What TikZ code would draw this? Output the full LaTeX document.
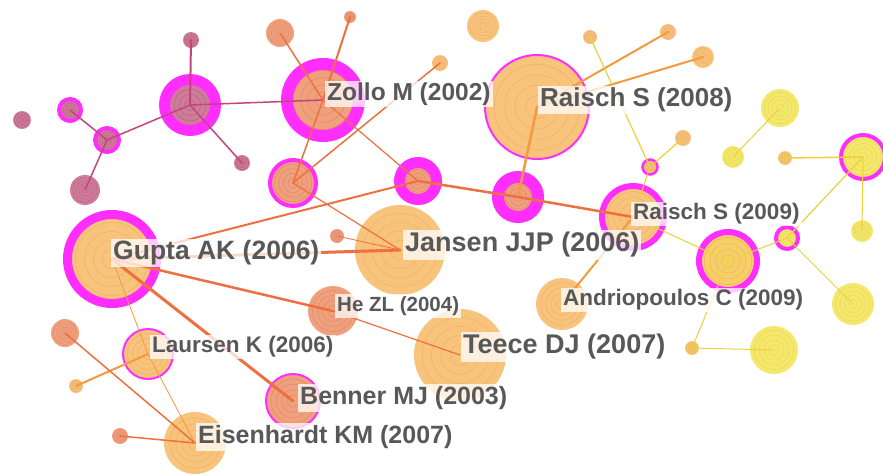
\documentclass[tikz,border=0pt]{standalone}
\usepackage{fontspec}
\setmainfont{Liberation Sans}
\usepackage{tikz}
\usetikzlibrary{calc}
\definecolor{Plum}{HTML}{CF7C9A}
\definecolor{PlumRing}{HTML}{B9627F}
\definecolor{Salmon}{HTML}{EFA07C}
\definecolor{SalmonRing}{HTML}{E2896A}
\definecolor{Amber}{HTML}{F8C47C}
\definecolor{AmberRing}{HTML}{EEAE6E}
\definecolor{Lemon}{HTML}{F4E86C}
\definecolor{LemonRing}{HTML}{E8D858}
\definecolor{Maize}{HTML}{F6D066}
\definecolor{Hot}{HTML}{FF2EFF}
\definecolor{PlumLink}{HTML}{C2457F}
\definecolor{CoralLink}{HTML}{EE7040}
\definecolor{OrangeLink}{HTML}{F29A3C}
\definecolor{YellowLink}{HTML}{EDD03C}
\definecolor{LabelGrey}{HTML}{585858}

\begin{document}
\begin{tikzpicture}[x=1pt, y=-1pt,
    cite/.style={circle, inner sep=0pt, outer sep=0pt, minimum size=#1},
    rings/.style={path picture={
      \foreach \k in {0.22,0.42,0.62,0.82}
        \draw[#1, line width=0.5pt] let \p1=(path picture bounding box.center), \p2=(path picture bounding box.east) in (\p1) circle[radius=\k*(\x2-\x1)];}},
    plum/.style={fill=Plum, rings=PlumRing},
    salmon/.style={fill=Salmon, rings=SalmonRing},
    amber/.style={fill=Amber, rings=AmberRing},
    maize/.style={fill=Maize, rings=AmberRing},
    lemon/.style={fill=Lemon, rings=LemonRing},
    hot/.style={draw=Hot, line width=#1},
    link/.style={draw=#1, line cap=round},
    lbl/.style={anchor=west, fill=white, fill opacity=0.75, text opacity=1, text=LabelGrey, inner sep=2pt, font=\bfseries\fontsize{#1}{#1}\selectfont}]
  \useasboundingbox[fill=white] (0,0) rectangle (883,475);

  % left cluster
  \node[cite=18, plum] (pa) at (22,120) {};
  \node[cite=22, plum, hot=4pt] (pb) at (70,110) {};
  \node[cite=24, plum, hot=4pt] (pc) at (107,140) {};
  \node[cite=30, plum] (pd) at (85,190) {};
  \node[cite=51, plum, hot=11pt] (pe) at (190,105) {};
  \node[cite=16, plum] (pf) at (191,40) {};
  \node[cite=16, plum] (pg) at (242,163) {};

  % middle
  \node[cite=72, salmon, hot=12pt] (zollo) at (323,100) {};
  \node[cite=28, salmon] (sa) at (280,33) {};
  \node[cite=12, salmon] (sb) at (350,17) {};
  \node[cite=16, amber] (ga) at (440,63) {};
  \node[cite=46, salmon, hot=4pt] (sc) at (293,183) {};
  \node[cite=37, salmon, hot=11pt] (sd) at (418,181) {};
  \node[cite=40, salmon, hot=12pt] (se) at (518,197) {};
  \node[cite=104, amber, hot=2pt] (raisch08) at (537,107) {};
  \node[cite=32, amber] (gb) at (483,26) {};
  \node[cite=14, amber] (gc) at (590,37) {};
  \node[cite=16, amber] (gd) at (668,32) {};
  \node[cite=22, amber] (ge) at (703,57) {};
  \node[cite=16, amber] (gf) at (683,138) {};
  \node[cite=15, amber, hot=2.5pt] (gj) at (650,167) {};
  \node[cite=90, amber] (jansen) at (400,250) {};
  \node[cite=14, salmon] (sh) at (337,236) {};
  \node[cite=62, amber, hot=6pt] (raisch09) at (633,217) {};
  \node[cite=52, amber] (andrio) at (562,304) {};

  % lower left
  \node[cite=89, amber, hot=9pt] (gupta) at (112,259) {};
  \node[cite=50, salmon] (hezl) at (333,311) {};
  \node[cite=92, amber] (teece) at (460,355) {};
  \node[cite=50, amber, hot=2pt] (laursen) at (148,354) {};
  \node[cite=28, salmon] (sf) at (65,333) {};
  \node[cite=14, amber] (gg) at (76,386) {};
  \node[cite=54, salmon, hot=2pt] (benner) at (293,401) {};
  \node[cite=62, amber] (eisen) at (195,443) {};
  \node[cite=16, salmon] (sg) at (120,436) {};

  % right cluster
  \node[cite=22, lemon] (ya) at (733,157) {};
  \node[cite=38, lemon] (yb) at (780,108) {};
  \node[cite=14, maize] (gi) at (785,158) {};
  \node[cite=44, lemon, hot=4pt] (yc) at (863,157) {};
  \node[cite=22, lemon] (yd) at (862,231) {};
  \node[cite=58, maize, hot=6pt] (ye) at (728,261) {};
  \node[cite=22, lemon, hot=4pt] (yf) at (787,238) {};
  \node[cite=42, lemon] (yg) at (853,304) {};
  \node[cite=48, lemon] (yh) at (774,350) {};
  \node[cite=14, maize] (gh) at (692,348) {};

  % links
  \draw[link=PlumLink, line width=1.5pt] (pb.center) -- (pc.center);
  \draw[link=PlumLink, line width=1.5pt] (pc.center) -- (pd.center);
  \draw[link=PlumLink, line width=1.5pt] (pc.center) -- (pe.center);
  \draw[link=PlumLink, line width=2pt] (pe.center) -- (pf.center);
  \draw[link=PlumLink, line width=1.5pt] (pe.center) -- (pg.center);
  \draw[link=PlumLink, line width=1.5pt] (pe.center) -- (zollo.center);
  \draw[link=CoralLink, line width=1.5pt] (zollo.center) -- (sa.center);
  \draw[link=CoralLink, line width=2pt] (zollo.center) -- (sb.center);
  \draw[link=CoralLink, line width=1.5pt] (zollo.center) -- (sc.center);
  \draw[link=CoralLink, line width=1.5pt] (sc.center) -- (ga.center);
  \draw[link=CoralLink, line width=1.2pt] (zollo.center) -- (sd.center);
  \draw[link=CoralLink, line width=1.2pt] (sc.center) -- (jansen.center);
  \draw[link=CoralLink, line width=2pt] (gupta.center) -- (sd.center);
  \draw[link=CoralLink, line width=2.5pt] (sd.center) -- (se.center);
  \draw[link=OrangeLink, line width=2.5pt] (se.center) -- (raisch08.center);
  \draw[link=CoralLink, line width=2.5pt] (se.center) -- (raisch09.center);
  \draw[link=OrangeLink, line width=2pt] (raisch08.center) -- (gd.center);
  \draw[link=OrangeLink, line width=2pt] (raisch08.center) -- (ge.center);
  \draw[link=YellowLink, line width=1.2pt] (gc.center) -- (gj.center);
  \draw[link=YellowLink, line width=1.2pt] (gj.center) -- (gf.center);
  \draw[link=YellowLink, line width=1pt] (gj.center) -- (raisch09.center);
  \draw[link=OrangeLink, line width=2pt] (raisch09.center) -- (andrio.center);
  \draw[link=YellowLink, line width=1pt] (raisch09.center) -- (ye.center);
  \draw[link=YellowLink, line width=1pt] (ye.center) -- (yf.center);
  \draw[link=YellowLink, line width=1.2pt] (yf.center) -- (yc.center);
  \draw[link=YellowLink, line width=1.5pt] (yc.center) -- (gi.center);
  \draw[link=YellowLink, line width=1pt] (yc.center) -- (yd.center);
  \draw[link=YellowLink, line width=1pt] (yf.center) -- (yg.center);
  \draw[link=YellowLink, line width=1pt] (ya.center) -- (yb.center);
  \draw[link=YellowLink, line width=1pt] (gh.center) -- (ye.center);
  \draw[link=YellowLink, line width=1pt] (gh.center) -- (yh.center);
  \draw[link=CoralLink, line width=3pt] (gupta.center) -- (jansen.center);
  \draw[link=CoralLink, line width=2.5pt] (gupta.center) -- (hezl.center);
  \draw[link=CoralLink, line width=1.2pt] (hezl.center) -- (teece.center);
  \draw[link=CoralLink, line width=3pt] (gupta.center) -- (benner.center);
  \draw[link=OrangeLink, line width=0.8pt] (gupta.center) -- (laursen.center);
  \draw[link=OrangeLink, line width=0.8pt] (laursen.center) -- (eisen.center);
  \draw[link=OrangeLink, line width=2pt] (laursen.center) -- (gg.center);
  \draw[link=CoralLink, line width=1.5pt] (sf.center) -- (eisen.center);
  \draw[link=CoralLink, line width=1.5pt] (sg.center) -- (eisen.center);
  \draw[link=CoralLink, line width=0.8pt] (jansen.center) -- (sh.center);

  % labels
  \node[lbl=24.5] (zolloL) at (325,94) {Zollo M (2002)};
  \node[lbl=26] (raisch08L) at (538,100) {Raisch S (2008)};
  \node[lbl=26.5] (guptaL) at (111,253) {Gupta AK (2006)};
  \node[lbl=27] (jansenL) at (403,245) {Jansen JJP (2006)};
  \node[lbl=22.5] (raisch09L) at (631,214) {Raisch S (2009)};
  \node[lbl=22.5] (andrioL) at (561,300) {Andriopoulos C (2009)};
  \node[lbl=20.5] (hezlL) at (335,306) {He ZL (2004)};
  \node[lbl=27] (teeceL) at (461,347) {Teece DJ (2007)};
  \node[lbl=22.5] (laursenL) at (150,347) {Laursen K (2006)};
  \node[lbl=25] (bennerL) at (298,398) {Benner MJ (2003)};
  \node[lbl=25] (eisenL) at (196,437) {Eisenhardt KM (2007)};
\end{tikzpicture}
\end{document}
